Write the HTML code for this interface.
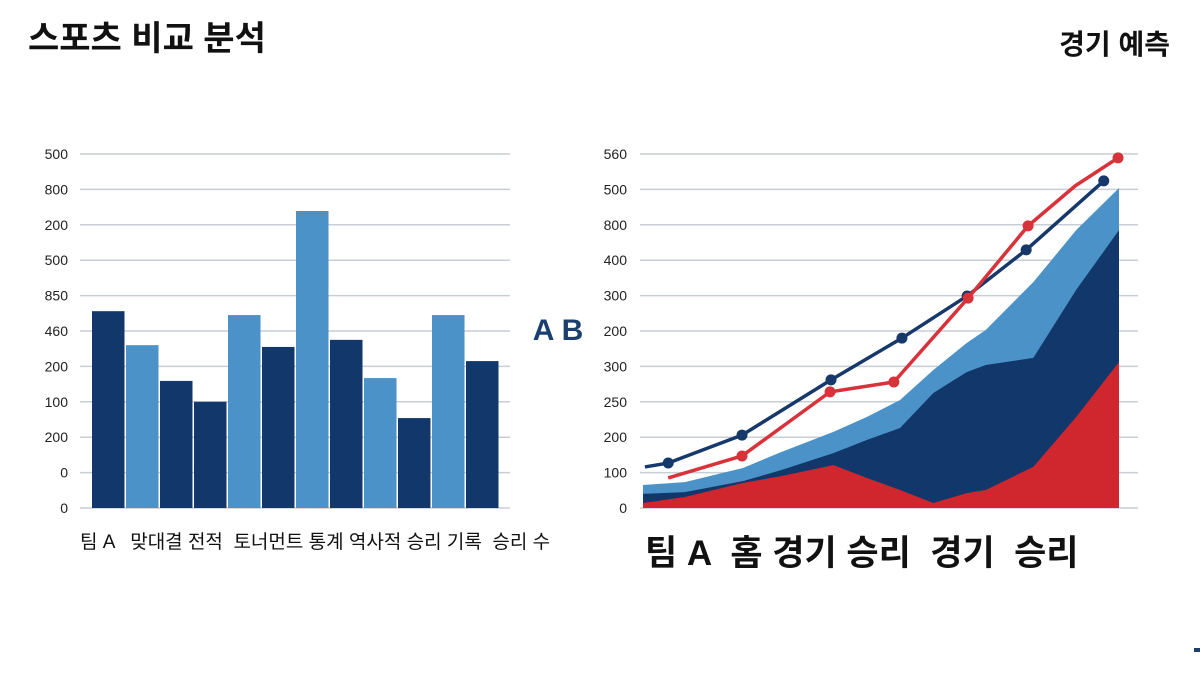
<!DOCTYPE html>
<html><head><meta charset="utf-8"><style>
html,body{margin:0;padding:0;background:#fff;}
svg{display:block;font-family:"Liberation Sans","Noto Sans CJK KR",sans-serif;}
</style></head><body>
<svg id="c" width="1200" height="675" viewBox="0 0 1200 675">
<text x="28" y="50" font-size="34" font-weight="bold" fill="#111">스포츠 비교 분석</text>
<text x="1170" y="54" font-size="28" font-weight="bold" fill="#111" text-anchor="end">경기 예측</text>
<text x="558" y="340" font-size="30" font-weight="bold" fill="#1c3f6e" text-anchor="middle">A B</text>
<g id="left"></g>
<g id="right"></g>
<text x="80" y="548" font-size="19" fill="#111">팀 A &#160; 맞대결 전적 &#160;토너먼트 통계 역사적 승리 기록 &#160;승리 수</text>
<text x="645" y="565" font-size="35" font-weight="bold" fill="#111">팀 A &#160;홈 경기 승리 &#160;경기 &#160;승리</text>
<rect x="1194" y="648" width="6" height="4" fill="#1c3f6e"></rect>
</svg>
<script>
const leftTicks=["0","0","200","100","200","460","850","500","200","800","500"];
const barValues=[5.56,4.6,3.59,3.0,5.45,4.55,8.39,4.75,3.67,2.54,5.45,4.15];
const barSeries=["dark","light","dark","dark","light","dark","light","dark","light","dark","light","dark"];
const rightTicks=["0","100","200","250","300","200","300","400","800","500","560"];
const areaX=[0,0.88,2.1,2.9,4.0,4.7,5.4,6.1,6.8,7.2,8.2,9.1,10];
const areaRed=[0.14,0.31,0.71,0.9,1.21,0.85,0.51,0.14,0.42,0.51,1.16,2.57,4.12];
const areaNavy=[0.4,0.45,0.76,1.07,1.55,1.92,2.26,3.25,3.84,4.04,4.24,6.16,7.85];
const areaLight=[0.65,0.73,1.13,1.58,2.15,2.57,3.05,3.9,4.66,5.03,6.38,7.85,9.04];
const navyLineX=[0.04,0.53,2.08,3.95,5.44,6.81,8.05,9.68];
const navyLineY=[1.16,1.27,2.06,3.62,4.8,5.99,7.29,9.24];
const navyMarks=[0,1,1,1,1,1,1,1];
const redLineX=[0.53,2.08,3.93,5.27,6.83,8.09,9.08,9.98];
const redLineY=[0.85,1.47,3.28,3.56,5.93,7.97,9.1,9.89];
const redMarks=[0,1,1,1,1,1,0,1];

const NS="http://www.w3.org/2000/svg";
function mk(p,t,a){const e=document.createElementNS(NS,t);for(const k in a)e.setAttribute(k,a[k]);p.appendChild(e);return e;}
const y=v=>508-v*35.4;
const L=document.getElementById('left'),R=document.getElementById('right');
// left grid
leftTicks.forEach((t,i)=>{
 const g=mk(L,'line',{x1:80,x2:510,y1:y(i),y2:y(i),stroke:'#c9ced6','stroke-width':1.5});
 
 
 const tx=mk(L,'text',{x:68,y:y(i)+5,'font-size':14,fill:'#222','text-anchor':'end'});tx.textContent=t;
 
 
});
const bw=34;
barValues.forEach((v,i)=>{
 const r=mk(L,'rect',{x:92+i*bw,y:y(v),width:bw-1.5,height:v*35.4,fill:barSeries[i]==='dark'?'#12386b':'#4a92c7'});
 
 
});
// right grid
rightTicks.forEach((t,i)=>{
 const g=mk(R,'line',{x1:640,x2:1138,y1:y(i),y2:y(i),stroke:'#c9ced6','stroke-width':1.5});
 
 
 const tx=mk(R,'text',{x:627,y:y(i)+5,'font-size':14,fill:'#222','text-anchor':'end'});tx.textContent=t;
 
 
});
const x=v=>643+v*47.6;
function area(vals,fill,name){
 let d='M'+x(areaX[0])+','+y(0);
 vals.forEach((v,i)=>{d+=' L'+x(areaX[i])+','+y(v);});
 d+=' L'+x(areaX[areaX.length-1])+','+y(0)+' Z';
 const p=mk(R,'path',{d:d,fill:fill});
 
 
}
area(areaLight,'#4a92c7','area-light');
area(areaNavy,'#12386b','area-navy');
area(areaRed,'#d0262d','area-red');
function line(xs,ys,marks,col,name){
 const p=mk(R,'polyline',{points:xs.map((v,i)=>x(v)+','+y(ys[i])).join(' '),fill:'none',stroke:col,'stroke-width':3.5,'stroke-linejoin':'round'});
 
 
 xs.forEach((v,i)=>{if(!marks[i])return;
  const c=mk(R,'circle',{cx:x(v),cy:y(ys[i]),r:5.5,fill:col});
  
  
 });
}
line(navyLineX,navyLineY,navyMarks,'#16386a','navy-line');
line(redLineX,redLineY,redMarks,'#d8323a','red-line');
</script>
</body></html>
